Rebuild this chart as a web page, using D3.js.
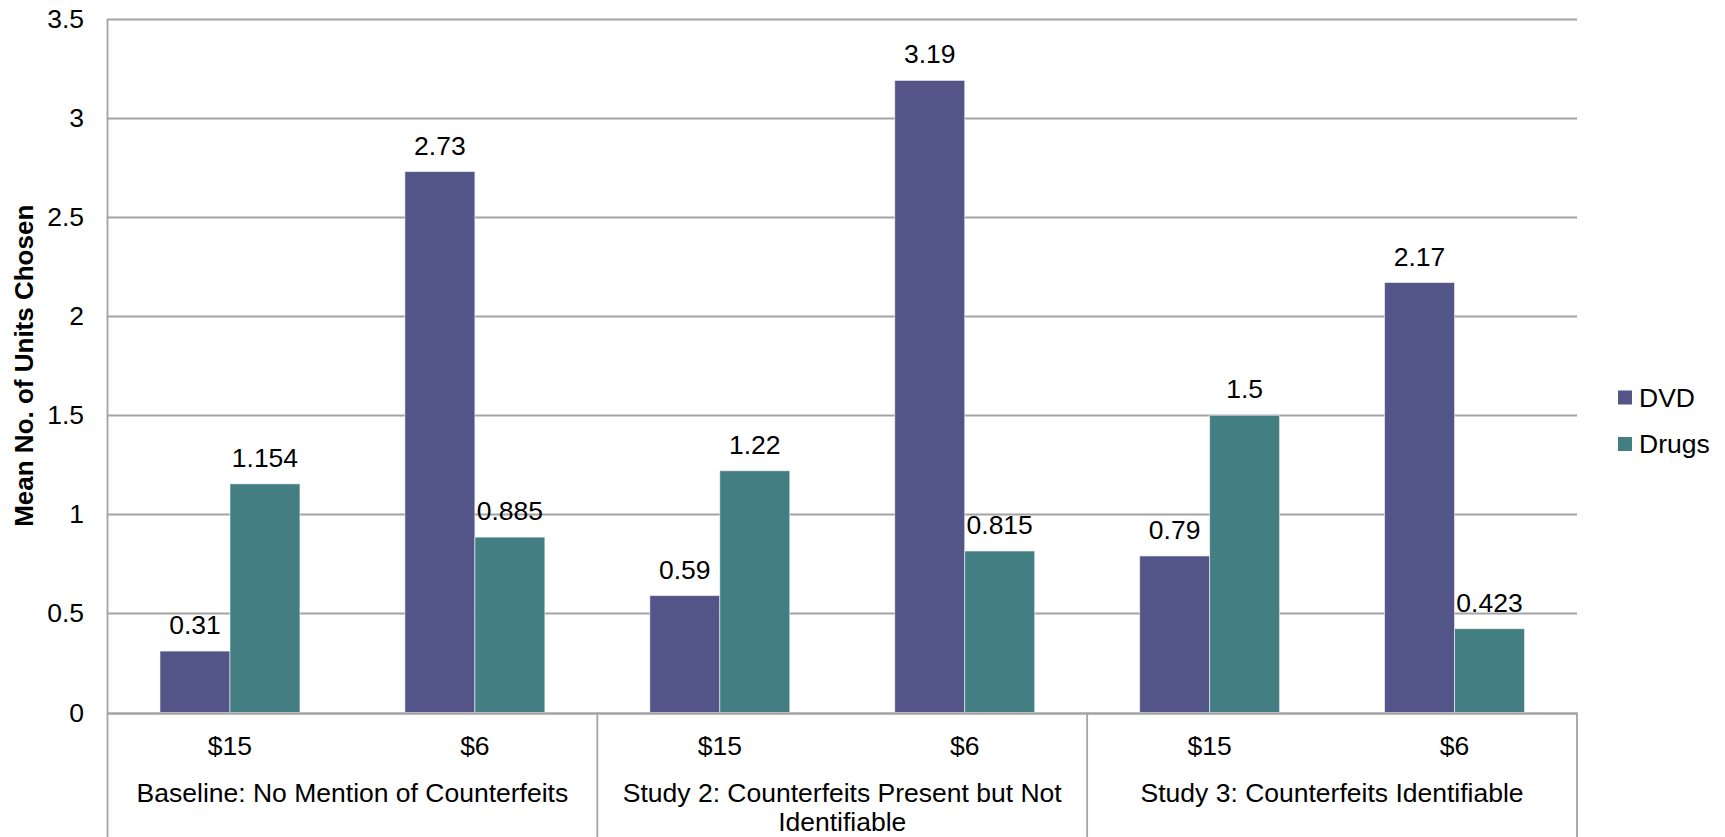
<!DOCTYPE html>
<html>
<head>
<meta charset="utf-8">
<script src="https://cdn.jsdelivr.net/npm/d3@7"></script>
<style>
  html, body { margin: 0; padding: 0; background: #fff; }
  svg { display: block; font-family: "Liberation Sans", Arial, sans-serif; }
</style>
</head>
<body>
<svg id="chart" width="1725" height="837"></svg>
<script>
// Groups of the study and the price levels inside each group
const groups = [
  "Baseline: No Mention of Counterfeits",
  "Study 2: Counterfeits Present but Not Identifiable",
  "Study 3: Counterfeits Identifiable"
];
const prices = ["$15", "$6"];
const seriesNames = ["DVD", "Drugs"];

// Mean number of units chosen, one entry per group × price
const dvdValues   = [0.31, 2.73, 0.59, 3.19, 0.79, 2.17];
const drugsValues = [1.154, 0.885, 1.22, 0.815, 1.5, 0.423];

const yTicks = [0, 0.5, 1, 1.5, 2, 2.5, 3, 3.5];
const yTitle = "Mean No. of Units Chosen";

const colors = { DVD: "#535488", Drugs: "#437e83" };

// Build the flat list of subcategories
const subcats = [];
groups.forEach((g, gi) => prices.forEach((p, pi) => {
  const i = gi * prices.length + pi;
  subcats.push({ key: i, group: g, price: p, DVD: dvdValues[i], Drugs: drugsValues[i] });
}));

const svg = d3.select("#chart");
const plot = { left: 107.5, right: 1577, top: 19, bottom: 712.5 };
const fontSize = 26.5;
const gridColor = "#a3a3a3";

const y = d3.scaleLinear().domain([0, 3.5]).range([plot.bottom, plot.top]);
const x = d3.scaleBand().domain(subcats.map(d => d.key)).range([plot.left, plot.right]).padding(0);
const xs = d3.scaleBand().domain(seriesNames).range([0, x.bandwidth()]).paddingInner(0).paddingOuter(0.75);
const xg = d3.scaleBand().domain(groups).range([plot.left, plot.right]).padding(0);

// Horizontal gridlines
svg.append("g").selectAll("line").data(yTicks).join("line")
  .attr("x1", plot.left).attr("x2", plot.right)
  .attr("y1", d => Math.round(y(d)) + 0.5).attr("y2", d => Math.round(y(d)) + 0.5)
  .attr("stroke", gridColor).attr("stroke-width", 1.8);

// Y axis tick labels
svg.append("g").selectAll("text").data(yTicks).join("text")
  .attr("x", 84).attr("y", d => y(d))
  .attr("text-anchor", "end").attr("dominant-baseline", "central")
  .attr("font-size", fontSize).attr("fill", "#000")
  .text(d => String(d));

// Y axis title
svg.append("text")
  .attr("transform", `translate(24,${(plot.top + plot.bottom) / 2}) rotate(-90)`)
  .attr("text-anchor", "middle").attr("dominant-baseline", "central")
  .attr("font-size", 26).attr("font-weight", "bold").attr("fill", "#000")
  .text(yTitle);

// Bars
const cat = svg.append("g").selectAll("g").data(subcats).join("g")
  .attr("transform", d => `translate(${x(d.key)},0)`);

cat.selectAll("rect").data(d => seriesNames.map(s => ({ s, v: d[s] }))).join("rect")
  .attr("x", d => xs(d.s)).attr("width", xs.bandwidth())
  .attr("y", d => y(d.v)).attr("height", d => y(0) - y(d.v))
  .attr("fill", d => colors[d.s])
  .attr("stroke", "rgba(255,255,255,0.55)").attr("stroke-width", 1);

// Value labels above bars
cat.selectAll("text").data(d => seriesNames.map(s => ({ s, v: d[s] }))).join("text")
  .attr("x", d => xs(d.s) + xs.bandwidth() / 2)
  .attr("y", d => y(d.v) - 17)
  .attr("text-anchor", "middle").attr("font-size", fontSize).attr("fill", "#000")
  .text(d => String(d.v));

// Axis lines: vertical value axis and the baseline
const axis = svg.append("g").attr("stroke", gridColor).attr("stroke-width", 1.8);
axis.append("line").attr("x1", plot.left).attr("x2", plot.left).attr("y1", plot.top).attr("y2", 837);
axis.append("line").attr("x1", plot.left).attr("x2", plot.right)
  .attr("y1", Math.round(y(0)) + 0.5).attr("y2", Math.round(y(0)) + 0.5);

// Group separators below the baseline
axis.selectAll("line.sep").data(groups.slice(1).concat(["__end"])).join("line")
  .attr("class", "sep")
  .attr("x1", d => d === "__end" ? plot.right : xg(d))
  .attr("x2", d => d === "__end" ? plot.right : xg(d))
  .attr("y1", y(0)).attr("y2", 837);

// Price labels
svg.append("g").selectAll("text").data(subcats).join("text")
  .attr("x", d => x(d.key) + x.bandwidth() / 2).attr("y", 755)
  .attr("text-anchor", "middle").attr("font-size", fontSize).attr("fill", "#000")
  .text(d => d.price);

// Group labels, wrapped to the group width
const maxWidth = xg.bandwidth() - 20;
svg.append("g").selectAll("text").data(groups).join("text")
  .attr("x", d => xg(d) + xg.bandwidth() / 2).attr("y", 802)
  .attr("text-anchor", "middle").attr("font-size", fontSize).attr("fill", "#000")
  .each(function(d) {
    const t = d3.select(this);
    const words = d.split(" ");
    let line = [];
    let tspan = t.append("tspan").attr("x", xg(d) + xg.bandwidth() / 2).attr("dy", 0);
    words.forEach(w => {
      line.push(w);
      tspan.text(line.join(" "));
      if (tspan.node().getComputedTextLength() > maxWidth && line.length > 1) {
        line.pop();
        tspan.text(line.join(" "));
        line = [w];
        tspan = t.append("tspan").attr("x", xg(d) + xg.bandwidth() / 2).attr("dy", 29).text(w);
      }
    });
  });

// Legend
const legend = svg.append("g").selectAll("g").data(seriesNames).join("g")
  .attr("transform", (d, i) => `translate(1618,${397.5 + i * 46.5})`);
legend.append("rect").attr("x", 0).attr("y", -7).attr("width", 14).attr("height", 14)
  .attr("fill", d => colors[d]);
legend.append("text").attr("x", 21).attr("y", 0).attr("dominant-baseline", "central")
  .attr("font-size", fontSize).attr("fill", "#000").text(d => d);
</script>
</body>
</html>
